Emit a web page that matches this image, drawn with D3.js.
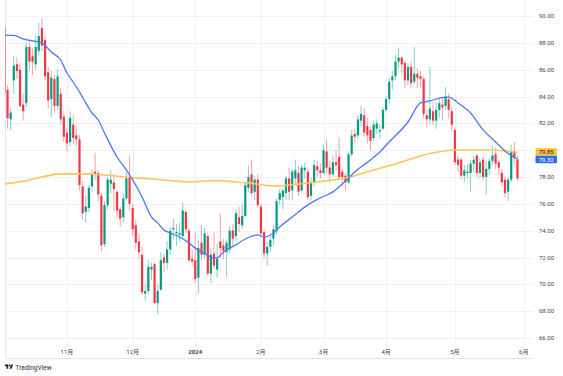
<!DOCTYPE html>
<html>
<head>
<meta charset="utf-8">
<script src="https://cdn.jsdelivr.net/npm/d3@7"></script>
<style>
  html, body { margin: 0; padding: 0; background: #fff; }
  svg { display: block; font-family: Roboto, "Noto Sans CJK JP", sans-serif; }
</style>
</head>
<body>
<div id="chart"></div>
<script>
// WTI 日足 + 移動平均(20 / 200)
const W = 563, H = 376;

// [date, open, high, low, close]
const octBars = [
  ["2023-10-04", 89.2, 89.5, 84.0, 84.3],
  ["2023-10-05", 84.5, 84.8, 81.6, 82.4],
  ["2023-10-06", 82.3, 83.2, 81.5, 82.8],
  ["2023-10-09", 85.2, 87.0, 84.2, 86.3],
  ["2023-10-10", 86.4, 86.9, 85.3, 85.9],
  ["2023-10-11", 86.0, 86.5, 83.2, 83.3],
  ["2023-10-12", 83.4, 84.2, 82.2, 82.9],
  ["2023-10-13", 83.5, 88.0, 83.2, 87.7],
  ["2023-10-16", 87.7, 88.2, 86.0, 86.6],
  ["2023-10-17", 87.0, 87.6, 85.6, 86.6],
  ["2023-10-18", 86.4, 88.6, 86.0, 87.7],
  ["2023-10-19", 87.4, 89.5, 87.0, 88.5],
  ["2023-10-20", 89.1, 89.85, 87.4, 87.8],
  ["2023-10-23", 88.2, 88.4, 85.2, 85.5],
  ["2023-10-24", 85.8, 86.2, 83.1, 83.7],
  ["2023-10-25", 83.8, 85.9, 82.5, 85.4],
  ["2023-10-26", 85.3, 85.6, 82.8, 83.3],
  ["2023-10-27", 83.3, 86.0, 83.0, 85.5],
  ["2023-10-30", 84.2, 84.6, 81.9, 82.3],
  ["2023-10-31", 82.5, 82.8, 80.6, 81.0],
];
const novBars = [
  ["2023-11-01", 81.3, 81.7, 79.9, 80.5],
  ["2023-11-02", 80.6, 82.9, 80.3, 82.4],
  ["2023-11-03", 81.9, 82.6, 80.4, 80.9],
  ["2023-11-06", 81.1, 81.8, 80.3, 80.8],
  ["2023-11-07", 80.8, 81.1, 77.0, 77.4],
  ["2023-11-08", 77.3, 77.7, 74.8, 75.3],
  ["2023-11-09", 75.4, 76.6, 74.6, 75.8],
  ["2023-11-10", 75.7, 77.4, 75.4, 77.2],
  ["2023-11-13", 77.3, 78.6, 76.9, 78.2],
  ["2023-11-14", 78.4, 79.8, 77.8, 78.2],
  ["2023-11-15", 78.3, 78.5, 76.2, 76.7],
  ["2023-11-16", 76.6, 76.8, 72.4, 72.9],
  ["2023-11-17", 73.0, 76.2, 72.8, 75.9],
  ["2023-11-20", 75.9, 78.0, 75.6, 77.8],
  ["2023-11-21", 77.5, 78.5, 76.8, 77.8],
  ["2023-11-22", 77.6, 78.2, 75.5, 77.1],
  ["2023-11-24", 76.9, 77.0, 75.0, 75.5],
  ["2023-11-27", 75.6, 75.8, 74.3, 74.9],
  ["2023-11-28", 75.0, 76.7, 74.6, 76.4],
  ["2023-11-29", 76.4, 78.3, 76.2, 77.9],
  ["2023-11-30", 78.0, 79.6, 75.5, 76.0],
];
const decBars = [
  ["2023-12-01", 75.7, 76.0, 73.6, 74.1],
  ["2023-12-04", 74.4, 74.8, 72.6, 73.1],
  ["2023-12-05", 73.2, 73.8, 71.9, 72.4],
  ["2023-12-06", 72.2, 72.8, 69.2, 69.4],
  ["2023-12-07", 69.3, 70.0, 68.8, 69.5],
  ["2023-12-08", 69.5, 71.8, 69.3, 71.3],
  ["2023-12-11", 71.1, 71.6, 70.3, 71.3],
  ["2023-12-12", 71.5, 71.6, 68.5, 68.6],
  ["2023-12-13", 68.6, 70.0, 67.8, 69.5],
  ["2023-12-14", 69.6, 72.4, 69.5, 71.8],
  ["2023-12-15", 72.0, 72.3, 70.9, 71.6],
  ["2023-12-18", 71.6, 73.2, 71.1, 72.6],
  ["2023-12-19", 72.6, 74.3, 72.2, 74.0],
  ["2023-12-20", 74.1, 74.9, 73.4, 74.2],
  ["2023-12-21", 73.8, 74.5, 72.9, 73.9],
  ["2023-12-22", 73.7, 74.6, 73.2, 73.8],
  ["2023-12-26", 73.6, 76.1, 73.5, 75.5],
  ["2023-12-27", 75.4, 75.5, 73.8, 74.1],
  ["2023-12-28", 74.0, 74.2, 71.6, 71.8],
  ["2023-12-29", 71.9, 72.6, 71.4, 71.7],
];
const janBars = [
  ["2024-01-02", 71.8, 73.8, 70.1, 70.4],
  ["2024-01-03", 70.5, 73.3, 69.3, 72.7],
  ["2024-01-04", 73.1, 74.4, 71.8, 72.2],
  ["2024-01-05", 72.2, 74.2, 71.9, 73.8],
  ["2024-01-08", 73.6, 73.8, 70.6, 70.8],
  ["2024-01-09", 70.8, 72.7, 70.1, 72.2],
  ["2024-01-10", 72.3, 73.9, 71.2, 71.4],
  ["2024-01-11", 71.1, 73.0, 70.5, 71.9],
  ["2024-01-12", 73.2, 75.25, 72.0, 72.7],
  ["2024-01-16", 72.9, 73.4, 71.9, 72.5],
  ["2024-01-17", 72.4, 73.3, 70.6, 73.1],
  ["2024-01-18", 72.6, 74.3, 72.3, 74.0],
  ["2024-01-19", 74.0, 74.5, 72.9, 73.4],
  ["2024-01-22", 73.6, 75.6, 73.2, 75.3],
  ["2024-01-23", 75.0, 75.8, 73.9, 74.5],
  ["2024-01-24", 74.4, 76.0, 74.1, 75.1],
  ["2024-01-25", 75.1, 77.6, 75.0, 77.4],
  ["2024-01-26", 77.2, 78.8, 76.9, 78.0],
  ["2024-01-29", 78.2, 79.3, 76.6, 76.8],
  ["2024-01-30", 76.9, 78.1, 76.3, 77.8],
  ["2024-01-31", 77.8, 78.2, 75.7, 75.9],
];
const febBars = [
  ["2024-02-01", 75.8, 76.0, 73.6, 73.8],
  ["2024-02-02", 73.9, 74.1, 71.9, 72.3],
  ["2024-02-05", 72.3, 73.2, 71.4, 72.8],
  ["2024-02-06", 72.8, 73.6, 72.4, 73.3],
  ["2024-02-07", 73.4, 74.4, 72.9, 74.1],
  ["2024-02-08", 74.0, 76.4, 73.7, 76.2],
  ["2024-02-09", 76.3, 77.1, 75.9, 76.8],
  ["2024-02-12", 76.5, 77.2, 75.6, 77.0],
  ["2024-02-13", 76.8, 78.1, 76.3, 77.9],
  ["2024-02-14", 77.9, 78.7, 76.3, 76.9],
  ["2024-02-15", 77.0, 78.6, 76.3, 78.4],
  ["2024-02-16", 77.9, 79.3, 77.5, 78.5],
  ["2024-02-20", 78.3, 78.8, 76.6, 76.9],
  ["2024-02-21", 77.0, 78.9, 76.8, 78.7],
  ["2024-02-22", 78.5, 79.1, 77.9, 78.7],
  ["2024-02-23", 78.4, 78.7, 76.3, 76.5],
  ["2024-02-26", 76.6, 77.9, 76.3, 77.6],
  ["2024-02-27", 77.6, 79.3, 77.3, 78.9],
  ["2024-02-28", 78.8, 79.2, 78.0, 78.5],
  ["2024-02-29", 78.5, 79.0, 77.9, 78.3],
];
const marBars = [
  ["2024-03-01", 78.3, 80.4, 78.2, 80.0],
  ["2024-03-04", 79.9, 80.8, 78.3, 78.7],
  ["2024-03-05", 78.7, 79.2, 77.6, 78.2],
  ["2024-03-06", 78.2, 79.6, 78.0, 79.1],
  ["2024-03-07", 79.1, 80.0, 78.5, 78.9],
  ["2024-03-08", 79.5, 80.9, 77.8, 78.0],
  ["2024-03-11", 78.4, 78.6, 77.3, 78.0],
  ["2024-03-12", 78.1, 78.3, 77.0, 77.6],
  ["2024-03-13", 77.6, 79.9, 77.5, 79.7],
  ["2024-03-14", 79.7, 81.5, 79.5, 81.1],
  ["2024-03-15", 81.2, 81.6, 80.6, 81.0],
  ["2024-03-18", 81.1, 82.6, 80.8, 82.3],
  ["2024-03-19", 82.2, 83.3, 81.8, 82.7],
  ["2024-03-20", 82.6, 83.1, 81.0, 81.3],
  ["2024-03-21", 81.8, 82.4, 80.5, 81.1],
  ["2024-03-22", 81.5, 81.8, 80.0, 80.7],
  ["2024-03-25", 80.9, 82.2, 80.7, 81.9],
  ["2024-03-26", 81.6, 82.3, 81.2, 82.0],
  ["2024-03-27", 81.4, 81.9, 80.9, 81.5],
  ["2024-03-28", 81.6, 83.2, 81.5, 83.0],
];
const aprBars = [
  ["2024-04-01", 83.0, 84.0, 82.8, 83.8],
  ["2024-04-02", 83.8, 85.4, 83.5, 85.1],
  ["2024-04-03", 85.2, 85.9, 84.5, 85.5],
  ["2024-04-04", 85.5, 87.1, 85.2, 86.6],
  ["2024-04-05", 86.6, 87.6, 86.1, 86.9],
  ["2024-04-08", 86.9, 87.0, 85.7, 86.4],
  ["2024-04-09", 86.5, 86.7, 84.6, 85.2],
  ["2024-04-10", 85.2, 86.5, 84.8, 86.2],
  ["2024-04-11", 86.2, 86.6, 84.6, 85.0],
  ["2024-04-12", 85.1, 87.7, 84.9, 85.7],
  ["2024-04-15", 85.7, 86.1, 84.6, 85.4],
  ["2024-04-16", 85.5, 85.9, 84.7, 85.3],
  ["2024-04-17", 85.3, 85.5, 82.4, 82.7],
  ["2024-04-18", 82.6, 83.0, 81.7, 82.3],
  ["2024-04-19", 82.3, 86.2, 81.9, 83.1],
  ["2024-04-22", 82.9, 83.6, 81.9, 82.2],
  ["2024-04-23", 82.2, 83.6, 81.6, 83.0],
  ["2024-04-24", 83.0, 83.8, 82.4, 83.5],
  ["2024-04-25", 83.4, 83.9, 82.2, 83.2],
  ["2024-04-26", 83.3, 84.7, 83.0, 84.0],
  ["2024-04-29", 83.8, 84.2, 82.4, 83.0],
  ["2024-04-30", 82.9, 83.2, 81.4, 81.9],
];
const mayBars = [
  ["2024-05-01", 81.5, 81.7, 78.9, 79.1],
  ["2024-05-02", 79.3, 79.6, 78.4, 78.9],
  ["2024-05-03", 79.3, 79.4, 77.8, 78.1],
  ["2024-05-06", 78.1, 78.9, 77.6, 78.5],
  ["2024-05-07", 78.3, 79.0, 77.9, 78.4],
  ["2024-05-08", 78.3, 79.3, 76.9, 79.0],
  ["2024-05-09", 79.0, 79.6, 78.4, 79.3],
  ["2024-05-10", 79.6, 79.7, 78.0, 78.3],
  ["2024-05-13", 78.3, 79.4, 77.9, 79.1],
  ["2024-05-14", 79.3, 79.5, 77.8, 78.0],
  ["2024-05-15", 78.0, 79.2, 76.7, 78.6],
  ["2024-05-16", 78.6, 79.4, 78.2, 79.2],
  ["2024-05-17", 79.2, 80.3, 78.9, 79.6],
  ["2024-05-20", 79.7, 80.2, 78.6, 79.0],
  ["2024-05-21", 79.1, 79.3, 78.2, 78.7],
  ["2024-05-22", 78.3, 78.6, 77.3, 77.6],
  ["2024-05-23", 77.8, 78.0, 76.5, 76.8],
  ["2024-05-24", 76.9, 78.0, 76.2, 77.8],
  ["2024-05-28", 77.8, 80.4, 77.6, 79.9],
  ["2024-05-29", 79.9, 80.6, 78.9, 79.4],
  ["2024-05-30", 79.3, 79.6, 77.7, 77.9],
];

// 移動平均 (画像から読んだ値)
const ma20 = [
  ["2023-10-04", 88.58], ["2023-10-09", 88.55], ["2023-10-12", 88.29], ["2023-10-17", 88.14],
  ["2023-10-20", 87.99], ["2023-10-25", 87.32], ["2023-10-30", 86.72], ["2023-11-01", 85.75],
  ["2023-11-03", 85.08], ["2023-11-07", 84.34], ["2023-11-09", 83.52], ["2023-11-13", 82.77],
  ["2023-11-15", 82.25], ["2023-11-17", 81.28], ["2023-11-24", 79.49], ["2023-11-29", 78.52],
  ["2023-12-01", 77.78], ["2023-12-06", 76.51], ["2023-12-11", 75.02], ["2023-12-13", 74.58],
  ["2023-12-15", 74.05], ["2023-12-19", 73.83], ["2023-12-22", 73.53], ["2023-12-28", 73.09],
  ["2024-01-02", 72.70], ["2024-01-05", 72.30], ["2024-01-10", 71.97], ["2024-01-11", 71.97],
  ["2024-01-16", 72.41], ["2024-01-22", 72.94], ["2024-01-25", 73.38], ["2024-01-31", 73.68],
  ["2024-02-02", 73.53], ["2024-02-07", 73.83], ["2024-02-09", 74.28], ["2024-02-15", 75.02],
  ["2024-02-23", 75.92], ["2024-02-29", 76.44], ["2024-03-06", 76.89], ["2024-03-12", 77.70],
  ["2024-03-15", 78.38], ["2024-03-22", 79.27], ["2024-03-27", 79.87], ["2024-04-02", 80.61],
  ["2024-04-10", 82.10], ["2024-04-16", 83.52], ["2024-04-19", 83.67], ["2024-04-26", 83.96],
  ["2024-04-29", 83.96], ["2024-05-02", 83.52], ["2024-05-08", 82.77], ["2024-05-14", 81.51],
  ["2024-05-20", 80.61], ["2024-05-23", 79.94], ["2024-05-30", 79.32],
];
const ma200 = [
  ["2023-10-04", 77.48], ["2023-10-16", 77.78], ["2023-10-20", 78.00], ["2023-10-30", 78.23],
  ["2023-11-07", 78.23], ["2023-11-17", 78.15], ["2023-11-29", 78.00], ["2023-12-11", 77.85],
  ["2023-12-21", 77.70], ["2023-12-28", 77.63], ["2024-01-10", 77.74], ["2024-01-22", 77.63],
  ["2024-01-26", 77.56], ["2024-02-07", 77.33], ["2024-02-22", 77.52], ["2024-03-06", 77.78],
  ["2024-03-12", 77.93], ["2024-03-25", 78.52], ["2024-04-05", 79.05], ["2024-04-19", 79.75],
  ["2024-05-02", 80.01], ["2024-05-15", 80.01], ["2024-05-30", 79.85],
];

const priceTicks = [66, 68, 70, 72, 74, 76, 78, 80, 82, 84, 86, 88, 90];
const monthTicks = [
  ["2023-11-01", "11月"], ["2023-12-01", "12月"], ["2024-01-02", "2024"], ["2024-02-01", "2月"],
  ["2024-03-01", "3月"], ["2024-04-01", "4月"], ["2024-05-01", "5月"], ["2024-06-03", "6月"],
];

const bars = [...octBars, ...novBars, ...decBars, ...janBars, ...febBars, ...marBars, ...aprBars, ...mayBars]
  .map(([date, o, h, l, c]) => ({ date, o, h, l, c }));
const dates = bars.map((d) => d.date);
const idxOf = (date) => {
  const i = dates.indexOf(date);
  return i >= 0 ? i : dates.length + 1; // まだ無い日付 (6/3)
};

const plot = { left: 5, right: 533, top: 0, bottom: 346 };

const x = d3.scaleLinear().domain([0, dates.length - 1]).range([4.4, 517.5]);
const y = d3.scaleLinear().domain([66, 90]).range([338, 16]);

const UP = "#089981", DOWN = "#f23645";
const UP_WICK = "#86cfc0", DOWN_WICK = "#f6a0a8";
const BLUE = "#4a7bf2", ORANGE = "#fcc557";

const svg = d3.select("#chart").append("svg").attr("width", W).attr("height", H);
svg.append("rect").attr("width", W).attr("height", H).attr("fill", "#fff");

svg.append("clipPath").attr("id", "pane")
  .append("rect")
  .attr("x", plot.left).attr("y", plot.top)
  .attr("width", plot.right - plot.left).attr("height", plot.bottom - plot.top);

// grid
const grid = svg.append("g").attr("stroke", "#eff1f5").attr("stroke-width", 1);
grid.selectAll("line.h").data(priceTicks).join("line")
  .attr("class", "h")
  .attr("x1", plot.left).attr("x2", plot.right)
  .attr("y1", (d) => Math.round(y(d)) + 0.5).attr("y2", (d) => Math.round(y(d)) + 0.5);
grid.selectAll("line.v").data(monthTicks).join("line")
  .attr("class", "v")
  .attr("x1", (d) => Math.round(x(idxOf(d[0]))) + 0.5).attr("x2", (d) => Math.round(x(idxOf(d[0]))) + 0.5)
  .attr("y1", plot.top).attr("y2", plot.bottom);

// frame
svg.append("line").attr("x1", 5.5).attr("x2", 5.5).attr("y1", 0).attr("y2", 358)
  .attr("stroke", "#e3e5ea");
svg.append("line").attr("x1", 5).attr("x2", 533).attr("y1", 358.5).attr("y2", 358.5)
  .attr("stroke", "#e3e5ea");

const pane = svg.append("g").attr("clip-path", "url(#pane)");

// candles
const bw = 2.2;
const cg = pane.selectAll("g.c").data(bars).join("g").attr("class", "c");
cg.append("line")
  .attr("x1", (d, i) => x(i)).attr("x2", (d, i) => x(i))
  .attr("y1", (d) => y(d.h)).attr("y2", (d) => y(d.l))
  .attr("stroke", (d) => (d.c >= d.o ? UP_WICK : DOWN_WICK))
  .attr("stroke-width", 1);
cg.append("rect")
  .attr("x", (d, i) => x(i) - bw / 2)
  .attr("width", bw)
  .attr("y", (d) => y(Math.max(d.o, d.c)))
  .attr("height", (d) => Math.max(1, Math.abs(y(d.o) - y(d.c))))
  .attr("fill", (d) => (d.c >= d.o ? UP : DOWN));

// moving averages
const maLine = d3.line()
  .x((d) => x(idxOf(d[0])))
  .y((d) => y(d[1]))
  .curve(d3.curveMonotoneX);
pane.append("path").datum(ma200).attr("d", maLine)
  .attr("fill", "none").attr("stroke", ORANGE).attr("stroke-width", 1.6);
pane.append("path").datum(ma20).attr("d", maLine)
  .attr("fill", "none").attr("stroke", BLUE).attr("stroke-width", 1.3);

// last value badges
const fontSize = 6;
const bh = 7.5;
let c200 = y(ma200[ma200.length - 1][1]);
let c20 = y(ma20[ma20.length - 1][1]);
if (c20 - c200 < bh) {
  const push = (bh - (c20 - c200)) / 2;
  c200 -= push;
  c20 += push;
}
const badges = [
  { v: ma200[ma200.length - 1][1], cy: c200, fill: "#fbbf3e", text: "#1e222d" },
  { v: ma20[ma20.length - 1][1], cy: c20, fill: "#2f6cf4", text: "#fff" },
];

// price axis (labels hidden behind badges are skipped, like TradingView)
const freeTicks = priceTicks.filter((t) => badges.every((b) => Math.abs(y(t) - b.cy) > bh));
svg.append("g").selectAll("text").data(freeTicks).join("text")
  .attr("x", 539).attr("y", (d) => y(d))
  .attr("dy", "0.35em")
  .attr("font-size", fontSize).attr("fill", "#3c3f47")
  .text((d) => d.toFixed(2));

const bg = svg.append("g").selectAll("g").data(badges).join("g");
bg.append("rect")
  .attr("x", 535.5).attr("width", 21.5)
  .attr("y", (d) => d.cy - bh / 2).attr("height", bh)
  .attr("rx", 1).attr("fill", (d) => d.fill);
bg.append("text")
  .attr("x", 546.2).attr("y", (d) => d.cy)
  .attr("dy", "0.35em").attr("text-anchor", "middle")
  .attr("font-size", fontSize).attr("fill", (d) => d.text)
  .text((d) => d.v.toFixed(2));

// time axis
svg.append("g").selectAll("text").data(monthTicks).join("text")
  .attr("x", (d) => x(idxOf(d[0])))
  .attr("y", 352)
  .attr("dy", "0.35em").attr("text-anchor", "middle")
  .attr("font-size", fontSize)
  .attr("font-weight", (d) => (d[1] === "2024" ? 700 : 400))
  .attr("fill", "#3c3f47")
  .text((d) => d[1]);

// TradingView logo
const logo = svg.append("g").attr("transform", "translate(5,363.6) scale(0.23)").attr("fill", "#131722");
logo.append("path").attr("d", "M14 22H7V11H0V4h14v18z");
logo.append("circle").attr("cx", 20).attr("cy", 8).attr("r", 4);
logo.append("path").attr("d", "M28 22h-8l7.5-18h8z");
svg.append("text")
  .attr("x", 15.5).attr("y", 367.2).attr("dy", "0.35em")
  .attr("font-size", 6.6).attr("fill", "#2a2e39")
  .text("TradingView");
</script>
</body>
</html>
